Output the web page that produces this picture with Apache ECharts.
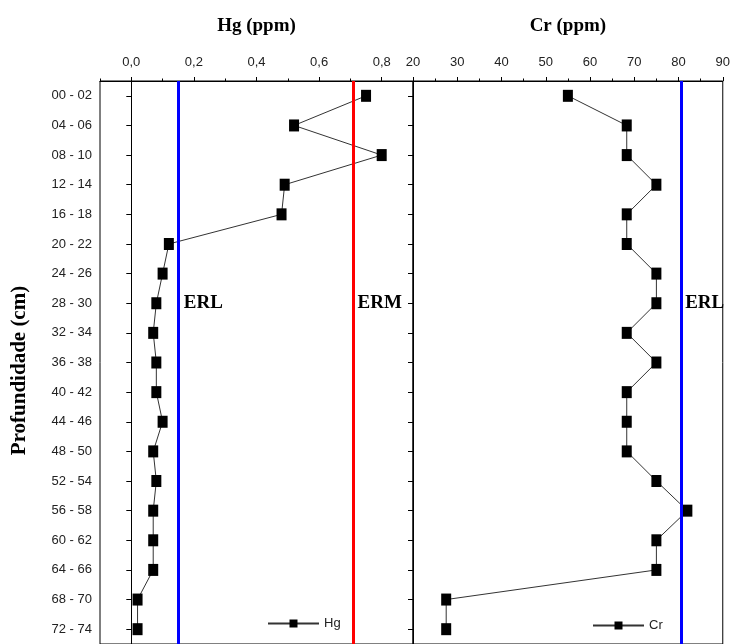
<!DOCTYPE html>
<html>
<head>
<meta charset="utf-8">
<script src="https://cdn.jsdelivr.net/npm/echarts@6/dist/echarts.min.js"></script>
<style>html,body{margin:0;padding:0;background:#fff}#c{width:733px;height:644px}</style>
</head>
<body>
<div id="c"></div>
<script>
var depths = ['00 - 02','04 - 06','08 - 10','12 - 14','16 - 18','20 - 22','24 - 26','28 - 30','32 - 34','36 - 38','40 - 42','44 - 46','48 - 50','52 - 54','56 - 58','60 - 62','64 - 66','68 - 70','72 - 74'];
var hgValues = [0.75,0.52,0.80,0.49,0.48,0.12,0.10,0.08,0.07,0.08,0.08,0.10,0.07,0.08,0.07,0.07,0.07,0.02,0.02];
var crValues = [55,68.3,68.3,75,68.3,68.3,75,75,68.3,75,68.3,68.3,68.3,75,82,75,75,27.5,27.5];
var hgERL = 0.155;
var hgERM = 0.71;
var crERL = 80.6;
var hgTicks = [0.0,0.2,0.4,0.6,0.8];
var labelRow = '28 - 30';

var SERIF = "'Liberation Serif','Times New Roman',serif";
var SANS = "'Liberation Sans',Arial,sans-serif";

function hgFmt(v){ return Number(v).toFixed(1).replace('.',','); }

var chart = echarts.init(document.getElementById('c'), null, {renderer:'canvas'});
var axisLabelStyle = {color:'#222', fontFamily:SANS, fontSize:13};

function lineSeries(name, data, xi, marks, points){
  return {
    name:name, type:'line', xAxisIndex:xi, yAxisIndex:xi,
    data:data.map(function(v,i){return [v, depths[i]];}),
    symbol:'rect', symbolSize:[10,12],
    itemStyle:{color:'#000'},
    lineStyle:{color:'#333', width:1},
    z:3,
    markLine:{silent:true, symbol:'none', label:{show:false}, data:marks},
    markPoint:{silent:true, symbol:'rect', symbolSize:0, data:points}
  };
}
function txtPoint(x, text){
  return {coord:[x, labelRow], label:{show:true, position:'right', distance:4, formatter:text, color:'#000', fontFamily:SERIF, fontWeight:'bold', fontSize:19}};
}

chart.setOption({
  animation:false,
  backgroundColor:'#fff',
  grid:[
    {left:100, top:81, width:313, height:566, show:true, borderColor:'#000', borderWidth:1},
    {left:413, top:81, width:314, height:566, show:true, borderColor:'#000', borderWidth:1}
  ],
  legend:[
    {data:['Hg'], left:267, top:617, padding:0, itemWidth:51, itemHeight:10, itemGap:3, textStyle:{color:'#222', fontFamily:SANS, fontSize:13}},
    {data:['Cr'], left:592, top:619, padding:0, itemWidth:51, itemHeight:10, itemGap:3, textStyle:{color:'#222', fontFamily:SANS, fontSize:13}}
  ],
  xAxis:[
    {gridIndex:0, type:'value', position:'top', min:-0.1, max:0.9,
     name:'Hg (ppm)', nameLocation:'middle', nameGap:45,
     nameTextStyle:{fontFamily:SERIF, fontWeight:'bold', fontSize:19, color:'#000'},
     axisLine:{show:true, lineStyle:{color:'#000', width:1}},
     axisTick:{show:true, inside:false, length:4, customValues:hgTicks, lineStyle:{color:'#000'}},
     axisLabel:Object.assign({formatter:hgFmt, margin:12, customValues:hgTicks}, axisLabelStyle),
     splitLine:{show:false}},
    {gridIndex:1, type:'value', position:'top', min:20, max:90, interval:10,
     name:'Cr (ppm)', nameLocation:'middle', nameGap:45,
     nameTextStyle:{fontFamily:SERIF, fontWeight:'bold', fontSize:19, color:'#000'},
     axisLine:{show:true, lineStyle:{color:'#000', width:1}},
     axisTick:{show:true, inside:false, length:4, lineStyle:{color:'#000'}},
     minorTick:{show:true, splitNumber:2, length:2.5, lineStyle:{color:'#000'}},
     axisLabel:Object.assign({margin:12}, axisLabelStyle),
     splitLine:{show:false}},
    {gridIndex:0, type:'value', position:'top', min:-0.1, max:0.9, interval:0.1,
     axisLine:{show:false}, axisLabel:{show:false},
     axisTick:{show:true, inside:false, length:2.5, lineStyle:{color:'#000'}},
     splitLine:{show:false}}
  ],
  yAxis:[
    {gridIndex:0, type:'category', data:depths, inverse:true, boundaryGap:true,
     name:'Profundidade (cm)', nameLocation:'middle', nameGap:70, nameRotate:90,
     nameTextStyle:{fontFamily:SERIF, fontWeight:'bold', fontSize:21, color:'#000', padding:[0,16,0,0]},
     axisLine:{show:true, lineStyle:{color:'#000'}},
     axisTick:{show:true, alignWithLabel:true, length:5, lineStyle:{color:'#000'}},
     axisLabel:Object.assign({margin:8, interval:0}, axisLabelStyle),
     splitLine:{show:false}},
    {gridIndex:1, type:'category', data:depths, inverse:true, boundaryGap:true,
     axisLine:{show:true, lineStyle:{color:'#000'}},
     axisTick:{show:true, alignWithLabel:true, length:5, interval:0, lineStyle:{color:'#000'}},
     axisLabel:{show:false},
     splitLine:{show:false}}
  ],
  series:[
    lineSeries('Hg', hgValues, 0,
      [{xAxis:hgERL, lineStyle:{color:'#0000ff', width:3, type:'solid'}},
       {xAxis:hgERM, lineStyle:{color:'#ff0000', width:3, type:'solid'}}],
      [txtPoint(hgERL,'ERL'), txtPoint(hgERM,'ERM')]),
    lineSeries('Cr', crValues, 1,
      [{xAxis:crERL, lineStyle:{color:'#0000ff', width:3, type:'solid'}}],
      [txtPoint(crERL,'ERL')])
  ]
});
</script>
</body>
</html>
